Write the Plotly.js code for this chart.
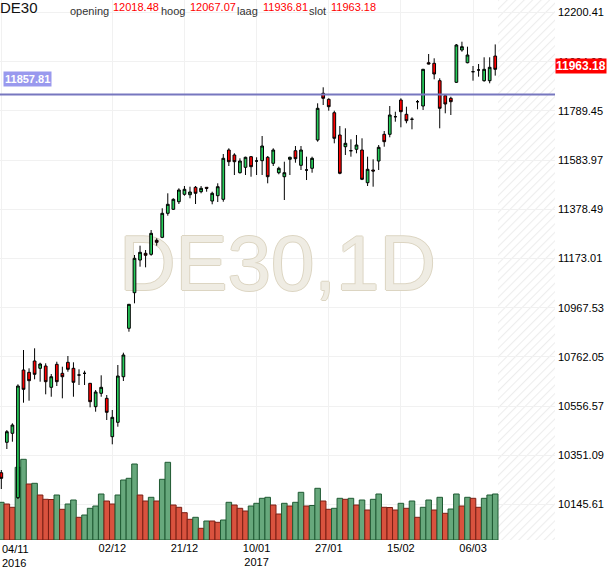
<!DOCTYPE html>
<html>
<head>
<meta charset="utf-8">
<script src="https://cdn.plot.ly/plotly-3.0.1.min.js"></script>
<style>html,body{margin:0;padding:0;background:#fff;}#chart{width:610px;height:568px;}</style>
</head>
<body>
<div id="chart"></div>
<script>
// ---- data (daily DE30 candles, index = trading day) ----
var symbol = 'DE30';
var timeframe = '1D';
var openP = [
10278.4,10405.4,10443.0,10174.0,10707.3,10697.7,10744.9,10714.4,10724.0,10635.1,
10731.1,10693.5,10739.5,10714.4,10686.4,10693.5,10651.8,10554.1,10610.0,10589.1,
10428.8,10488.9,10679.3,10881.5,11030.2,11166.7,11194.7,11190.5,11249.0,11261.5,
11361.8,11378.5,11410.2,11441.1,11439.4,11470.4,11452.0,11470.4,11413.1,11435.3,
11420.2,11626.1,11605.3,11531.3,11553.9,11598.2,11580.2,11581.5,11595.7,11570.6,
11531.3,11514.6,11587.3,11623.2,11562.2,11542.6,11549.7,11667.9,11862.9,11837.9,
11781.9,11688.8,11639.9,11623.2,11629.1,11626.1,11489.6,11542.6,11580.2,11691.7,
11691.7,11765.2,11835.0,11775.2,11754.4,11827.9,11809.9,11990.7,11988.2,11915.6,
11852.9,11842.1,11908.9,12043.8,11990.7,11953.2,11960.3,11915.6,11915.6,12018.48];
var highP = [
10289.7,10456.7,10484.7,10647.6,10790.9,10714.4,10798.0,10737.8,10735.3,10690.6,
10742.0,10721.1,10765.8,10739.5,10710.3,10704.4,10652.5,10623.8,10685.2,10602.9,
10540.3,10728.2,10779.6,10983.0,11187.6,11226.5,11208.5,11292.0,11257.4,11382.7,
11445.3,11424.4,11466.2,11475.8,11472.9,11475.8,11475.8,11471.5,11452.0,11487.1,
11609.4,11633.2,11612.4,11591.5,11598.2,11601.1,11595.7,11684.6,11601.1,11633.2,
11556.4,11577.3,11598.2,11642.8,11642.8,11598.2,11598.2,11821.2,11888.0,11842.1,
11790.3,11726.4,11716.8,11670.8,11688.8,11675.0,11598.2,11587.3,11647.0,11705.5,
11809.9,11786.1,11842.1,11807.0,11762.7,11835.0,11965.0,12027.1,12009.1,11925.6,
11853.5,11848.7,12068.8,12078.4,12057.6,11977.0,11985.3,12013.3,12013.3,12067.07];
var lowP = [
10210.3,10377.4,10407.9,10168.6,10570.8,10579.1,10668.5,10658.5,10605.8,10595.8,
10640.5,10589.1,10700.2,10595.8,10644.7,10644.7,10551.6,10533.2,10595.8,10498.5,
10397.0,10470.5,10661.4,10867.3,10985.9,11138.8,11136.2,11184.7,11226.5,11258.0,
11351.8,11375.6,11400.6,11435.3,11424.4,11400.6,11445.3,11452.0,11399.4,11409.0,
11410.2,11559.3,11521.7,11528.0,11521.7,11514.6,11521.7,11521.7,11487.1,11559.3,
11524.7,11417.3,11521.7,11573.1,11542.6,11500.8,11531.3,11660.8,11814.1,11790.3,
11654.1,11525.0,11605.3,11598.2,11612.4,11500.5,11475.8,11472.9,11542.6,11639.9,
11679.2,11744.3,11720.9,11737.6,11712.6,11796.1,11793.2,11984.0,11921.4,11716.8,
11779.4,11772.3,11906.0,12036.7,11988.2,11915.6,11932.3,11911.4,11904.7,11936.81];
var closeP = [
10255.0,10449.7,10477.6,10640.5,10626.7,10662.7,10689.4,10732.4,10658.5,10679.3,
10658.5,10679.3,10710.3,10656.0,10686.4,10693.5,10575.0,10615.5,10635.1,10530.7,
10509.8,10682.3,10770.0,10981.7,11173.8,11198.9,11186.4,11278.2,11240.7,11361.8,
11399.4,11420.2,11459.1,11462.0,11450.7,11445.3,11466.2,11466.2,11445.3,11472.9,
11591.5,11577.3,11577.3,11580.2,11595.7,11556.4,11580.2,11642.8,11514.6,11626.1,
11549.7,11531.3,11595.7,11589.8,11626.1,11542.6,11591.5,11800.3,11842.1,11807.0,
11675.0,11528.8,11654.1,11623.2,11647.0,11503.8,11545.5,11538.4,11637.4,11660.8,
11772.3,11765.2,11786.1,11748.5,11754.4,11827.9,11963.2,11985.3,11943.5,11800.3,
11818.3,11827.9,12064.7,12057.6,12022.9,11953.2,11960.3,11963.2,11971.5,11963.18];
var volume = [
3770,3600,3270,7270,8070,5600,5670,4500,4070,4050,
4500,3070,3600,4000,2270,2500,3170,3400,4600,3900,
3600,4500,6000,6170,7600,4500,3900,4270,3900,6070,
7770,3500,3270,2730,2070,2270,1170,1900,1900,1770,
2000,3770,3500,3170,2900,3400,3670,4170,4270,3500,
2600,3670,3400,3770,4770,3400,3450,5170,3900,3070,
3170,4170,4070,4170,3500,4000,3000,4070,4600,3270,
3250,3000,3670,3170,3900,2270,3270,4000,3000,4270,
2670,3100,4600,3400,4270,4170,3270,4170,4500,4600];
var tickIdx = [0, 20, 33, 46, 59, 72, 85];
var tickText = ['', '02/12', '21/12', '10/01<br>2017', '27/01', '15/02', '06/03'];
var firstTickText = '04/11<br>2016';
var priceTicks = [10145.61,10351.09,10556.57,10762.05,10967.53,11173.01,11378.49,11583.97,11789.45,11994.93,12200.41];
var levelLine = 11857.81;
var headerLabels = ['opening', 'hoog', 'laag', 'slot'];

// ---- build ----
var n = closeP.length;
var idx = [];
for (var i = 0; i < n; i++) idx.push(i);
var xRange = [-0.234, 99.77];
var yRange = [9997.4, 12252.6];
var volRange = [0, 54000];

var vFill = [], vLine = [];
for (var j = 0; j < n; j++) {
  var up = (j === 0) || volume[j] > volume[j - 1];
  vFill.push(up ? '#67a87c' : '#d9523e');
  vLine.push(up ? '#1f5a33' : '#7a1f14');
}

var FONT = 'Arial, "Liberation Sans", sans-serif';

var watermark = {
  type: 'scatter', mode: 'text', xaxis: 'x', yaxis: 'y',
  x: [(xRange[0] + xRange[1]) / 2], y: [(yRange[0] + yRange[1]) / 2],
  text: [symbol + ',' + timeframe], textposition: 'middle center',
  textfont: {family: FONT, size: 78, color: '#efece3',
    shadow: '1px 0 0 #dcd5c2, -1px 0 0 #dcd5c2, 0 1px 0 #dcd5c2, 0 -1px 0 #dcd5c2'},
  hoverinfo: 'skip', cliponaxis: false, showlegend: false
};
var volTrace = {
  type: 'bar', xaxis: 'x', yaxis: 'y2', x: idx, y: volume, width: 1,
  marker: {color: vFill, line: {color: vLine, width: 1}},
  hoverinfo: 'skip', showlegend: false
};
var candles = {
  type: 'candlestick', xaxis: 'x', yaxis: 'y3', x: idx,
  open: openP, high: highP, low: lowP, close: closeP,
  increasing: {fillcolor: '#26cc5a', line: {color: '#000000', width: 1}},
  decreasing: {fillcolor: '#ff0000', line: {color: '#000000', width: 1}},
  whiskerwidth: 0, hoverinfo: 'skip', showlegend: false
};

var last = n - 1;
var headerValues = [openP[last], highP[last], lowP[last], closeP[last]].map(function (v) { return v.toFixed(2); });

var PW = 555, PH = 540;
function px(xp) { return (xp - 1) / PW; }
function py(yp) { return 1 - yp / PH; }

var ann = [];
ann.push({xref: 'paper', yref: 'paper', x: px(0), y: 1, yshift: 2, xanchor: 'left', yanchor: 'top', borderpad: 0,
  text: symbol, showarrow: false, font: {family: FONT, size: 15, color: '#111111'}});
var labX = [70, 161, 237, 309], valX = [113, 190, 263, 331];
for (var k = 0; k < 4; k++) {
  ann.push({xref: 'paper', yref: 'paper', x: px(labX[k]), y: py(10.5), xanchor: 'left', yanchor: 'middle', borderpad: 0,
    text: headerLabels[k], showarrow: false, font: {family: FONT, size: 11, color: '#333333'}});
  ann.push({xref: 'paper', yref: 'paper', x: px(valX[k]), y: py(7.5), xanchor: 'left', yanchor: 'middle', borderpad: 0,
    text: headerValues[k], showarrow: false, font: {family: FONT, size: 11, color: '#ff0000'}});
}
ann.push({xref: 'paper', yref: 'y', x: 3 / PW, y: levelLine, yshift: 16, xanchor: 'left', yanchor: 'middle',
  text: '<b>' + levelLine.toFixed(2) + '</b>', showarrow: false, bgcolor: '#9999ee', borderpad: 1,
  font: {family: FONT, size: 11, color: '#ffffff'}});
ann.push({xref: 'paper', yref: 'y', x: 1, y: closeP[last], yshift: 3, xanchor: 'left', yanchor: 'middle',
  text: '<b>' + closeP[last].toFixed(2) + '</b>', showarrow: false, bgcolor: '#ff0000', borderpad: 0,
  font: {family: FONT, size: 12, color: '#ffffff'}});
ann.push({xref: 'paper', yref: 'paper', x: px(1), y: 0, yshift: -1, xanchor: 'left', yanchor: 'top', align: 'left',
  text: firstTickText, showarrow: false, font: {family: FONT, size: 11, color: '#000000'}});

var hatch = '<svg xmlns="http://www.w3.org/2000/svg" width="57" height="540" viewBox="0 0 57 540" preserveAspectRatio="none">' +
  '<defs><pattern id="p" width="6" height="6" patternUnits="userSpaceOnUse" patternTransform="rotate(45)">' +
  '<line x1="0" y1="0" x2="0" y2="6" stroke="#ededed" stroke-width="2.2"/></pattern></defs>' +
  '<rect width="57" height="540" fill="url(#p)"/></svg>';

var layout = {
  width: 610, height: 568,
  margin: {l: 0, r: 55, t: 0, b: 28, pad: 0},
  paper_bgcolor: '#ffffff', plot_bgcolor: '#ffffff',
  showlegend: false, dragmode: false,
  font: {family: FONT, size: 11, color: '#000000'},
  xaxis: {range: xRange, tickmode: 'array', tickvals: tickIdx, ticktext: tickText,
    showgrid: true, gridcolor: '#f1f1f1', gridwidth: 1, zeroline: false, showline: false,
    ticks: '', tickfont: {family: FONT, size: 11, color: '#000000'},
    rangeslider: {visible: false}, fixedrange: true},
  yaxis: {range: yRange, side: 'right', tickmode: 'array', tickvals: priceTicks,
    ticktext: priceTicks.map(function (v) { return v.toFixed(2); }),
    showgrid: true, gridcolor: '#f1f1f1', gridwidth: 1, zeroline: false, showline: false,
    ticks: '', ticklabelstandoff: 2, tickfont: {family: FONT, size: 11, color: '#000000'}, fixedrange: true},
  yaxis2: {range: volRange, overlaying: 'y', visible: false, fixedrange: true},
  yaxis3: {range: yRange, overlaying: 'y', visible: false, fixedrange: true},
  shapes: [{type: 'line', xref: 'paper', yref: 'y', x0: 0, x1: 1, y0: levelLine, y1: levelLine,
    line: {color: '#7777bf', width: 2}, layer: 'above'}],
  images: [{source: 'data:image/svg+xml;charset=utf-8,' + encodeURIComponent(hatch),
    xref: 'x', yref: 'paper', x: last + 0.5, y: 1, sizex: xRange[1] - (last + 0.5), sizey: 1,
    xanchor: 'left', yanchor: 'top', sizing: 'stretch', layer: 'below'}],
  annotations: ann
};

Plotly.newPlot('chart', [watermark, volTrace, candles], layout, {displayModeBar: false, staticPlot: true});
</script>
</body>
</html>
